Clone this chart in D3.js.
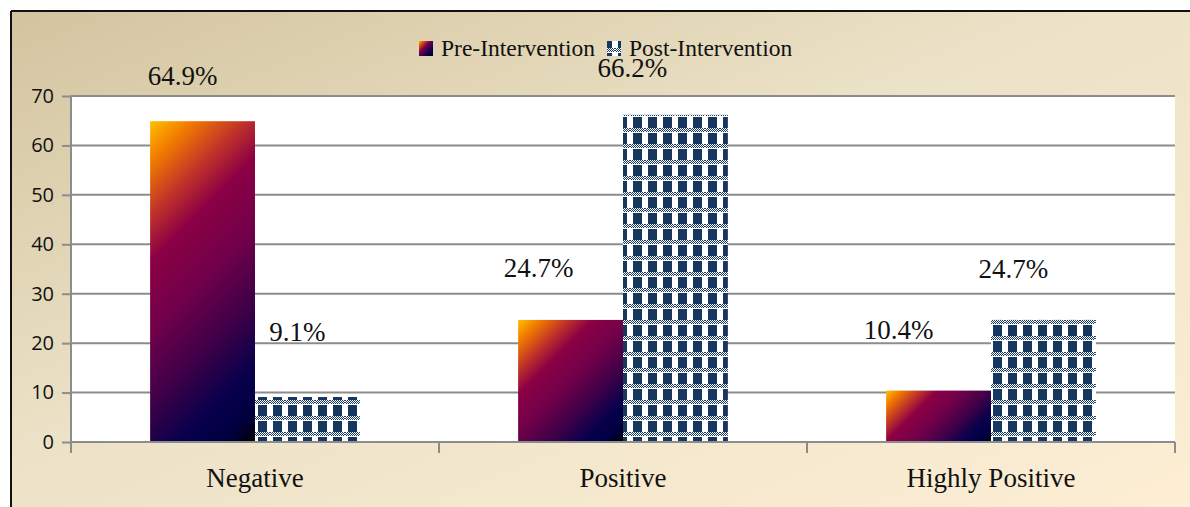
<!DOCTYPE html>
<html>
<head>
<meta charset="utf-8">
<script src="https://cdn.jsdelivr.net/npm/d3@7"></script>
<style>
  html, body { margin: 0; padding: 0; background: #ffffff; }
  svg { display: block; }
</style>
</head>
<body>
<script>
// Attitude scores before and after the intervention (percent of respondents)
const categories = ["Negative", "Positive", "Highly Positive"];
const seriesNames = ["Pre-Intervention", "Post-Intervention"];
const preValues = [64.9, 24.7, 10.4];
const postValues = [9.1, 66.2, 24.7];
const yTicks = [0, 10, 20, 30, 40, 50, 60, 70];

const W = 1190, H = 507;
const plot = { left: 71, right: 1175, top: 96, bottom: 442 };

const svg = d3.select("body").append("svg")
  .attr("width", W).attr("height", H);
const defs = svg.append("defs");

// Page background: warm parchment diagonal wash
const bg = defs.append("linearGradient").attr("id", "bg")
  .attr("x1", "0").attr("y1", "0").attr("x2", "1").attr("y2", "1");
bg.append("stop").attr("offset", "0").attr("stop-color", "#d3c49f");
bg.append("stop").attr("offset", "0.45").attr("stop-color", "#ece2c7");
bg.append("stop").attr("offset", "1").attr("stop-color", "#fdeed4");

svg.append("rect").attr("x", 0).attr("y", 0).attr("width", W).attr("height", H)
  .attr("fill", "#ffffff");
svg.append("rect").attr("x", 11).attr("y", 11).attr("width", W - 11).attr("height", H - 11)
  .attr("fill", "url(#bg)");
// Frame edges (top and left)
svg.append("line").attr("x1", 11).attr("y1", 11).attr("x2", W).attr("y2", 11)
  .attr("stroke", "#111").attr("stroke-width", 2);
svg.append("line").attr("x1", 11).attr("y1", 11).attr("x2", 11).attr("y2", H)
  .attr("stroke", "#111").attr("stroke-width", 2);

// Checked fill for the post-intervention bars
const navy = "#17375e";
const check = defs.append("pattern").attr("id", "check")
  .attr("patternUnits", "userSpaceOnUse").attr("width", 15).attr("height", 16)
  .attr("x", 0).attr("y", 0);
check.append("rect").attr("width", 15).attr("height", 16).attr("fill", "#ffffff");
check.append("rect").attr("x", 3).attr("y", 5).attr("width", 9).attr("height", 11)
  .attr("fill", navy).attr("shape-rendering", "crispEdges");
// dithered band across the tile
for (let r = 0; r <= 3; r++) {
  for (let c = 0; c < 15; c++) {
    if ((r + c) % 2 === 0) {
      check.append("rect").attr("x", c).attr("y", r).attr("width", 1).attr("height", 1)
        .attr("fill", navy).attr("shape-rendering", "crispEdges");
    }
  }
}

// Scales
const x0 = d3.scaleBand().domain(categories)
  .range([plot.left, plot.right]).paddingInner(0.43).paddingOuter(0.215);
const x1 = d3.scaleBand().domain(seriesNames).range([0, x0.bandwidth()]);
const y = d3.scaleLinear().domain([0, 70]).range([plot.bottom, plot.top]);

// Plot area
svg.append("rect").attr("x", plot.left).attr("y", plot.top)
  .attr("width", plot.right - plot.left).attr("height", plot.bottom - plot.top)
  .attr("fill", "#ffffff");

// Horizontal gridlines
svg.append("g").selectAll("line").data(yTicks.filter(t => t > 0)).join("line")
  .attr("x1", plot.left).attr("x2", plot.right)
  .attr("y1", d => y(d)).attr("y2", d => y(d))
  .attr("stroke", "#8c8c8c").attr("stroke-width", 2);

// Y axis
const yAxis = svg.append("g").attr("transform", `translate(${plot.left},0)`)
  .call(d3.axisLeft(y).tickValues(yTicks).tickSize(9).tickPadding(8).tickFormat(d3.format("d")));
yAxis.select(".domain").remove();
yAxis.selectAll(".tick line").attr("stroke", "#8c8c8c").attr("stroke-width", 2);
yAxis.selectAll(".tick text")
  .attr("font-family", "'Open Sans', 'DejaVu Sans', sans-serif")
  .attr("font-size", 20).attr("fill", "#111");
svg.append("line").attr("x1", plot.left).attr("x2", plot.left)
  .attr("y1", plot.top).attr("y2", plot.bottom + 11)
  .attr("stroke", "#8c8c8c").attr("stroke-width", 2);

// Bars
const groups = categories.map((c, i) => ({ cat: c, pre: preValues[i], post: postValues[i] }));
const g = svg.append("g");
groups.forEach((d, i) => {
  // pre bar with diagonal fire gradient (45 degrees, spans the bar)
  const bx = x0(d.cat) + x1(seriesNames[0]);
  const bw = x1.bandwidth();
  const by = y(d.pre);
  const bh = y(0) - y(d.pre);
  const span = (bw + bh) / 2;
  const gid = "fire" + i;
  const lg = defs.append("linearGradient").attr("id", gid)
    .attr("gradientUnits", "userSpaceOnUse")
    .attr("x1", bx).attr("y1", by).attr("x2", bx + span).attr("y2", by + span);
  [[0, "#ffc000"], [0.1, "#f07a00"], [0.22, "#c03428"], [0.33, "#8c0044"],
   [0.5, "#70004a"], [0.68, "#3a0048"], [0.82, "#08004c"], [0.92, "#000040"], [1, "#000000"]]
    .forEach(s => lg.append("stop").attr("offset", s[0]).attr("stop-color", s[1]));
  g.append("rect").attr("x", bx).attr("y", by).attr("width", bw).attr("height", bh)
    .attr("fill", `url(#${gid})`);

  const px = x0(d.cat) + x1(seriesNames[1]);
  g.append("rect").attr("x", px).attr("y", y(d.post)).attr("width", bw)
    .attr("height", y(0) - y(d.post)).attr("fill", "url(#check)");
});

// X axis baseline and category separators
svg.append("line").attr("x1", plot.left).attr("x2", plot.right)
  .attr("y1", plot.bottom).attr("y2", plot.bottom)
  .attr("stroke", "#8c8c8c").attr("stroke-width", 2);
const seps = categories.map((c, i) => x0(c) - x0.step() * x0.paddingInner() / 2 + x0.step());
svg.append("g").selectAll("line").data(seps).join("line")
  .attr("x1", d => d).attr("x2", d => d)
  .attr("y1", plot.bottom).attr("y2", plot.bottom + 11)
  .attr("stroke", "#8c8c8c").attr("stroke-width", 2);

svg.append("g").selectAll("text").data(categories).join("text")
  .attr("x", d => x0(d) + x0.bandwidth() / 2).attr("y", 487)
  .attr("text-anchor", "middle")
  .attr("font-family", "'Liberation Serif', 'Times New Roman', serif")
  .attr("font-size", 27).attr("fill", "#111")
  .text(d => d);

// Value labels, set above and to the left of each bar
const labelShift = {
  pre: [{ dx: -20, dy: -36 }, { dx: -32, dy: -43 }, { dx: -40, dy: -52 }],
  post: [{ dx: -10, dy: -56 }, { dx: -43, dy: -38 }, { dx: -30, dy: -42 }]
};
const labels = [];
groups.forEach((d, i) => {
  labels.push({ v: d.pre, cx: x0(d.cat) + x1(seriesNames[0]) + x1.bandwidth() / 2, s: labelShift.pre[i] });
  labels.push({ v: d.post, cx: x0(d.cat) + x1(seriesNames[1]) + x1.bandwidth() / 2, s: labelShift.post[i] });
});
svg.append("g").selectAll("text").data(labels).join("text")
  .attr("x", d => d.cx + d.s.dx).attr("y", d => y(d.v) + d.s.dy)
  .attr("text-anchor", "middle")
  .attr("font-family", "'Liberation Serif', 'Times New Roman', serif")
  .attr("font-size", 27).attr("fill", "#111")
  .text(d => d.v.toFixed(1) + "%");

// Legend
const legend = svg.append("g");
const legendItems = [
  { name: seriesNames[0], x: 419, fill: "url(#fireLegend)" },
  { name: seriesNames[1], x: 607, fill: "url(#check)" }
];
const lgL = defs.append("linearGradient").attr("id", "fireLegend")
  .attr("x1", "0").attr("y1", "0").attr("x2", "1").attr("y2", "1");
[[0, "#ffc000"], [0.15, "#e06000"], [0.4, "#7a0048"], [0.75, "#0a004c"], [1, "#000020"]]
  .forEach(s => lgL.append("stop").attr("offset", s[0]).attr("stop-color", s[1]));
legendItems.forEach(it => {
  legend.append("rect").attr("x", it.x).attr("y", 41).attr("width", 14).attr("height", 15)
    .attr("fill", it.fill);
  legend.append("text").attr("x", it.x + 22).attr("y", 56)
    .attr("font-family", "'Liberation Serif', 'Times New Roman', serif")
    .attr("font-size", 23.5).attr("fill", "#111")
    .text(it.name);
});
</script>
</body>
</html>
